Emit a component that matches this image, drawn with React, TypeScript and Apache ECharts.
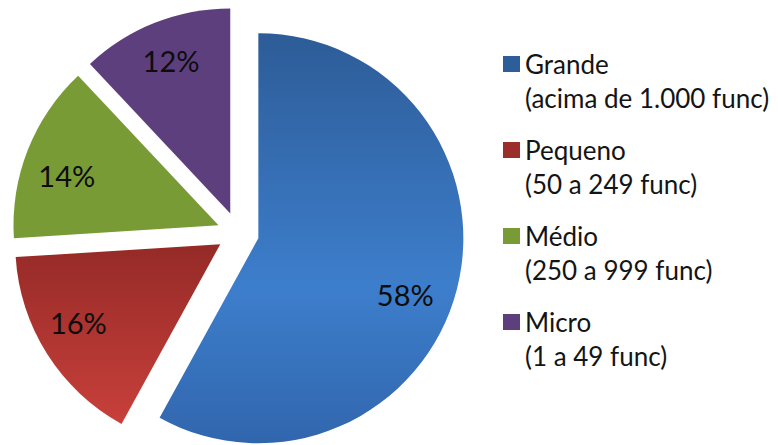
import React, { useEffect, useRef } from 'react';
import * as echarts from 'echarts';

const categories = ['Grande', 'Pequeno', 'Médio', 'Micro'];
const subtitles = ['(acima de 1.000 func)', '(50 a 249 func)', '(250 a 999 func)', '(1 a 49 func)'];
const values = [58, 16, 14, 12];

const grad = (stops: [number, string][]) =>
  new echarts.graphic.LinearGradient(0, 0, 0, 1, stops.map(([offset, color]) => ({ offset, color })));

const fills: any[] = [
  grad([[0, '#2D5C97'], [0.62, '#3D7ECC'], [1, '#3166AD']]),
  grad([[0, '#952A27'], [1, '#C8403B']]),
  '#789B36',
  '#5E3F7E',
];
const legendColors = ['#2E5E9A', '#9B2D2A', '#789B36', '#5E3F7E'];
// small label nudges (style only) to match Excel's placement
const labelNudges = [[-9, 16], [-6, -8], [-2, 9], [0, -3]];

export default function App() {
  const ref = useRef<HTMLDivElement>(null);
  useEffect(() => {
    if (!ref.current) return;
    const chart = echarts.init(ref.current, undefined, { renderer: 'svg' });
    const center = [238, 233];
    chart.setOption({
      animation: false,
      backgroundColor: '#ffffff',
      legend: {
        orient: 'vertical',
        left: 498,
        top: 42,
        itemWidth: 17,
        itemHeight: 68,
        itemGap: 18,
        icon: 'path://M0,0M0,68M0,9H17V25H0Z',
        selectedMode: false,
        data: categories.map((n, i) => ({ name: n, itemStyle: { color: legendColors[i], borderWidth: 0 } })),
        formatter: (name: string) => name + '\n' + subtitles[categories.indexOf(name)],
        textStyle: { fontFamily: 'Lato', fontSize: 26, lineHeight: 34, color: '#141414' },
      },
      series: [
        {
          type: 'pie',
          center,
          radius: 205,
          startAngle: 90,
          clockwise: true,
          selectedMode: 'multiple',
          selectedOffset: 21,
          label: { show: false },
          labelLine: { show: false },
          emphasis: { disabled: true },
          select: { itemStyle: { borderWidth: 0 } },
          itemStyle: { borderWidth: 0 },
          data: categories.map((n, i) => ({
            name: n,
            value: values[i],
            selected: true,
            itemStyle: { color: fills[i] },
          })),
        },
        {
          type: 'pie',
          center,
          radius: 316,
          startAngle: 90,
          clockwise: true,
          silent: true,
          selectedMode: 'multiple',
          selectedOffset: 21,
          itemStyle: { color: 'rgba(0,0,0,0)', borderWidth: 0 },
          select: { itemStyle: { borderWidth: 0 } },
          emphasis: { disabled: true },
          labelLine: { show: false },
          label: {
            show: true,
            position: 'inside',
            formatter: '{c}%',
            fontFamily: 'Lato',
            fontSize: 29,
            color: '#0d0d0d',
          },
          labelLayout: (p: any) => ({ dx: labelNudges[p.dataIndex][0], dy: labelNudges[p.dataIndex][1] }),
          data: categories.map((n, i) => ({
            name: n,
            value: values[i],
            selected: true,
          })),
        },
      ],
    });
    return () => chart.dispose();
  }, []);
  return <div ref={ref} style={{ position: 'absolute', left: 0, top: 0, width: 778, height: 445 }} />;
}
